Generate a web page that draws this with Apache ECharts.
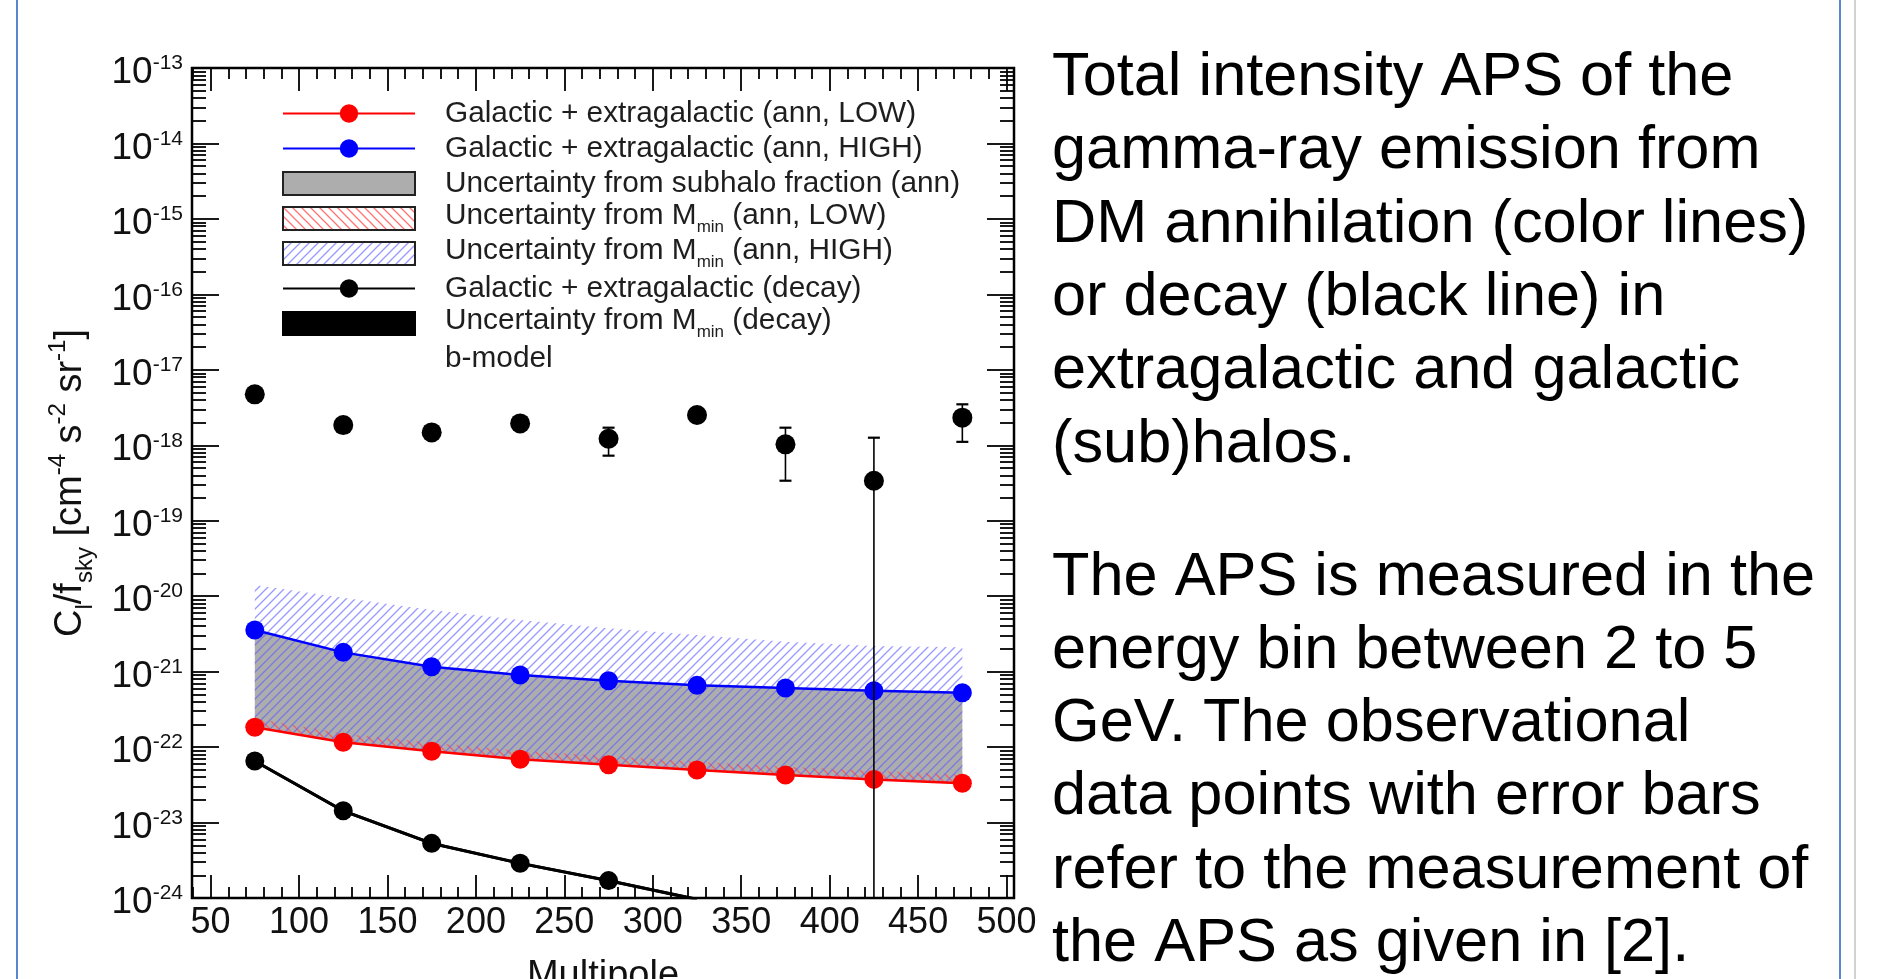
<!DOCTYPE html>
<html><head><meta charset="utf-8">
<script src="https://cdn.jsdelivr.net/npm/echarts@6/dist/echarts.min.js"></script>
<style>html,body{margin:0;padding:0;background:#fff}#c{width:1881px;height:979px}</style>
</head><body><div id="c"></div>
<script>
// ---------------- data ----------------
const multipoles = [75, 125, 175, 225, 275, 325, 375, 425, 475];
const annLowY  = [1.83e-22, 1.16e-22, 8.79e-23, 6.89e-23, 5.84e-23, 4.96e-23, 4.26e-23, 3.73e-23, 3.31e-23];
const annHighY = [3.56e-21, 1.80e-21, 1.16e-21, 9.0e-22, 7.57e-22, 6.58e-22, 6.07e-22, 5.58e-22, 5.25e-22];
const mminLowBandLo  = [1.83e-22, 1.16e-22, 8.79e-23, 6.89e-23, 5.84e-23, 4.96e-23, 4.26e-23, 3.73e-23, 3.31e-23];
const mminLowBandHi  = [2.4e-22, 1.5e-22, 1.14e-22, 8.9e-23, 7.6e-23, 6.4e-23, 5.5e-23, 4.85e-23, 4.3e-23];
const mminHighBandLo = [1.9e-22, 1.2e-22, 9.1e-23, 7.1e-23, 6.0e-23, 5.1e-23, 4.4e-23, 3.85e-23, 3.4e-23];
const mminHighBandHi = [1.41e-20, 9.5e-21, 6.55e-21, 4.83e-21, 3.75e-21, 3.05e-21, 2.49e-21, 2.18e-21, 2.10e-21];
const decayX = [75, 125, 175, 225, 275, 325];
const decayY = [6.53e-23, 1.43e-23, 5.30e-24, 2.88e-24, 1.70e-24, 9.6e-25];
const decayBandLo = [6.2e-23, 1.36e-23, 5.05e-24, 2.75e-24, 1.62e-24, 9.1e-25];
const decayBandHi = [6.85e-23, 1.5e-23, 5.55e-24, 3.0e-24, 1.78e-24, 1.0e-24];
const obsY  = [4.73e-18, 1.85e-18, 1.48e-18, 1.95e-18, 1.22e-18, 2.52e-18, 1.03e-18, 3.39e-19, 2.32e-18];
const obsLo = [4.2e-18, 1.65e-18, 1.32e-18, 1.75e-18, 7.28e-19, 2.25e-18, 3.39e-19, 1e-30, 1.11e-18];
const obsHi = [5.3e-18, 2.05e-18, 1.65e-18, 2.15e-18, 1.71e-18, 2.8e-18, 1.71e-18, 1.26e-18, 3.49e-18];
const xTickLabels = [50, 100, 150, 200, 250, 300, 350, 400, 450, 500];
const yTickExponents = [-24, -23, -22, -21, -20, -19, -18, -17, -16, -15, -14, -13];
const yMinorMantissas = [2, 3, 4, 5, 6, 7, 8, 9];

const N_LOW = 'Galactic + extragalactic (ann, LOW)';
const N_HIGH = 'Galactic + extragalactic (ann, HIGH)';
const N_SUB = 'Uncertainty from subhalo fraction (ann)';
const N_MLOW = 'Uncertainty from M_min (ann, LOW)';
const N_MHIGH = 'Uncertainty from M_min (ann, HIGH)';
const N_DEC = 'Galactic + extragalactic (decay)';
const N_DECB = 'Uncertainty from M_min (decay)';
const N_BM = 'b-model';

const para1 = ['Total intensity APS of the', 'gamma-ray emission from', 'DM annihilation (color lines)',
  'or decay (black line) in', 'extragalactic and galactic', '(sub)halos.'];
const para2 = ['The APS is measured in the', 'energy bin between 2 to 5', 'GeV. The observational',
  'data points with error bars', 'refer to the measurement of', 'the APS as given in [2].'];

// ---------------- helpers ----------------
const FONT = '"Liberation Sans", Arial, Helvetica, sans-serif';
const xMinorTicks = [];
for (let v = 40; v <= 500; v += 10) if (v % 50 !== 0) xMinorTicks.push(v);
const yMinorTicks = [];
for (let e = -24; e < -13; e++) for (const m of yMinorMantissas) yMinorTicks.push(e + Math.log10(m));

function hatch(color, dir, s, lw) {
  const c = document.createElement('canvas'); c.width = s; c.height = s;
  const g = c.getContext('2d'); g.strokeStyle = color; g.lineWidth = lw; g.beginPath();
  if (dir === '/') {
    g.moveTo(0, s); g.lineTo(s, 0);
    g.moveTo(-s / 2, s / 2); g.lineTo(s / 2, -s / 2);
    g.moveTo(s / 2, s * 1.5); g.lineTo(s * 1.5, s / 2);
  } else {
    g.moveTo(0, 0); g.lineTo(s, s);
    g.moveTo(-s / 2, s / 2); g.lineTo(s / 2, s * 1.5);
    g.moveTo(s / 2, -s / 2); g.lineTo(s * 1.5, s / 2);
  }
  g.stroke();
  return { image: c, repeat: 'repeat' };
}
const blueHatch = hatch('rgba(90,90,255,0.62)', '/', 9, 1.3);
const redHatch = hatch('rgba(255,80,80,0.8)', '\\', 9, 1.3);
const GRAY = '#adadad';

function band(name, xs, lo, hi, fill, z) {
  return {
    type: 'custom', name, xAxisIndex: 0, yAxisIndex: 0, clip: true, z, silent: true,
    data: xs.map((x, i) => [x, lo[i], hi[i]]),
    itemStyle: { color: fill },
    renderItem: (params, api) => {
      if (params.dataIndex !== 0) return;
      const top = xs.map((x, i) => api.coord([x, hi[i]]));
      const bot = xs.map((x, i) => api.coord([x, lo[i]])).reverse();
      return { type: 'polygon', shape: { points: top.concat(bot) }, style: { fill: fill, lineWidth: 0 } };
    }
  };
}
function lineSeries(name, xs, ys, color, width, z) {
  return {
    type: 'line', name, xAxisIndex: 0, yAxisIndex: 0, clip: true, z, silent: true,
    data: xs.map((x, i) => [x, ys[i]]),
    symbol: 'circle', symbolSize: 19, showSymbol: true,
    lineStyle: { color, width }, itemStyle: { color, opacity: 1 }
  };
}

const tickStyle = { color: '#000', width: 1.8 };
function xAux(position, vals, len) {
  return { type: 'value', gridIndex: 0, position, min: 39.5, max: 504.2,
    axisLine: { show: false, onZero: false }, splitLine: { show: false }, axisLabel: { show: false },
    axisTick: { show: true, inside: true, length: len, customValues: vals, lineStyle: tickStyle } };
}
function yAux(position, vals, len) {
  return { type: 'value', gridIndex: 0, position, min: -24, max: -13, interval: 1,
    axisLine: { show: false, onZero: false }, splitLine: { show: false }, axisLabel: { show: false },
    axisTick: { show: true, inside: true, length: len, customValues: vals, lineStyle: tickStyle } };
}

const TXT = '#1e1e1e';
const chart = echarts.init(document.getElementById('c'), null, { renderer: 'canvas' });
const option = {
  animation: false,
  backgroundColor: '#ffffff',
  grid: { left: 192, top: 68, width: 822, height: 830, show: true, borderColor: '#000', borderWidth: 2.5,
    backgroundColor: '#fff', outerBoundsMode: 'none', containLabel: false },
  xAxis: [
    { type: 'value', position: 'bottom', min: 39.5, max: 504.2,
      name: 'Multipole', nameLocation: 'middle', nameGap: 60,
      nameTextStyle: { fontFamily: FONT, fontSize: 38, color: '#111' },
      axisLine: { show: false, onZero: false }, splitLine: { show: false },
      axisTick: { show: true, inside: true, length: 23, customValues: xTickLabels, lineStyle: tickStyle },
      axisLabel: { customValues: xTickLabels, margin: 7, fontFamily: FONT, fontSize: 36, color: '#111' } },
    xAux('bottom', xMinorTicks, 11),
    xAux('top', xTickLabels, 23),
    xAux('top', xMinorTicks, 11)
  ],
  yAxis: [
    { type: 'log', logBase: 10, min: 1e-24, max: 1e-13, position: 'left',
      name: '{m|C}{sb|l}{m|/f}{sb|sky}{m| [cm}{sp|-4}{m| s}{sp|-2}{m| sr}{sp|-1}{m|]}',
      nameLocation: 'middle', nameRotate: 90, nameGap: 96,
      nameTextStyle: { fontFamily: FONT, fontSize: 38, color: '#111', rich: {
        m: { fontFamily: FONT, fontSize: 38, lineHeight: 50, color: '#111' },
        sb: { fontFamily: FONT, fontSize: 24, lineHeight: 50, verticalAlign: 'top', padding: [27, 0, 0, 0], color: '#111' },
        sp: { fontFamily: FONT, fontSize: 24, lineHeight: 50, verticalAlign: 'top', padding: [0, 0, 0, 0], color: '#111' } } },
      axisLine: { show: false, onZero: false }, splitLine: { show: false },
      axisTick: { show: false }, axisLabel: { show: false } },
    { type: 'value', position: 'left', min: -24, max: -13, interval: 1,
      axisLine: { show: false, onZero: false }, splitLine: { show: false },
      axisTick: { show: true, inside: true, length: 27, customValues: yTickExponents, lineStyle: tickStyle },
      axisLabel: { customValues: yTickExponents, margin: 9, padding: [10, 0, 0, 0],
        formatter: v => '{b|10}{s|' + v + '}',
        rich: { b: { fontFamily: FONT, fontSize: 37, lineHeight: 40, color: '#111' },
                s: { fontFamily: FONT, fontSize: 21, lineHeight: 40, verticalAlign: 'top', color: '#111' } } } },
    yAux('left', yMinorTicks, 14),
    yAux('right', yTickExponents, 27),
    yAux('right', yMinorTicks, 14)
  ],
  legend: {
    orient: 'vertical', left: 282, top: 96, padding: 0, itemGap: 0, itemWidth: 132, itemHeight: 23,
    selectedMode: false,
    formatter: name => {
      if (name.indexOf('M_min') < 0) return name;
      const parts = name.split('M_min');
      return '{a|' + parts[0] + 'M}{sub|min}{a|' + parts[1] + '}';
    },
    textStyle: { fontFamily: FONT, fontSize: 29.8, color: TXT, lineHeight: 35, padding: [0, 0, 0, 25],
      rich: {
        a: { fontFamily: FONT, fontSize: 29.8, color: TXT, lineHeight: 35, verticalAlign: 'top' },
        sub: { fontFamily: FONT, fontSize: 17, color: TXT, lineHeight: 35, verticalAlign: 'bottom' } } },
    data: [
      { name: N_LOW },
      { name: N_HIGH },
      { name: N_SUB, icon: 'rect', itemStyle: { color: GRAY, borderColor: '#222', borderWidth: 2 } },
      { name: N_MLOW, icon: 'rect', itemStyle: { color: redHatch, borderColor: '#222', borderWidth: 2 } },
      { name: N_MHIGH, icon: 'rect', itemStyle: { color: blueHatch, borderColor: '#222', borderWidth: 2 } },
      { name: N_DEC },
      { name: N_DECB, icon: 'rect', itemStyle: { color: '#000', borderColor: '#000', borderWidth: 2 } },
      { name: N_BM, icon: 'none' }
    ]
  },
  series: [
    band(N_SUB, multipoles, annLowY, annHighY, GRAY, 1),
    band(N_MLOW, multipoles, mminLowBandLo, mminLowBandHi, redHatch, 2),
    band(N_MHIGH, multipoles, mminHighBandLo, mminHighBandHi, blueHatch, 3),
    band(N_DECB, decayX, decayBandLo, decayBandHi, '#000', 4),
    lineSeries(N_LOW, multipoles, annLowY, '#ff0000', 2.5, 5),
    lineSeries(N_HIGH, multipoles, annHighY, '#0000ff', 2.5, 5),
    lineSeries(N_DEC, decayX, decayY, '#000000', 3, 5),
    { type: 'line', name: N_BM, data: [], xAxisIndex: 0, yAxisIndex: 0 },
    { type: 'custom', name: 'Data', xAxisIndex: 0, yAxisIndex: 0, clip: true, z: 6, silent: true,
      data: multipoles.map((x, i) => [x, obsLo[i], obsHi[i]]),
      renderItem: (params, api) => {
        const x = api.value(0);
        const pLo = api.coord([x, api.value(1)]), pHi = api.coord([x, api.value(2)]);
        const cw = 6;
        return { type: 'group', children: [
          { type: 'line', shape: { x1: pHi[0], y1: pHi[1], x2: pLo[0], y2: pLo[1] }, style: { stroke: '#000', lineWidth: 1.6 } },
          { type: 'line', shape: { x1: pHi[0] - cw, y1: pHi[1], x2: pHi[0] + cw, y2: pHi[1] }, style: { stroke: '#000', lineWidth: 2.2 } },
          { type: 'line', shape: { x1: pLo[0] - cw, y1: pLo[1], x2: pLo[0] + cw, y2: pLo[1] }, style: { stroke: '#000', lineWidth: 2.2 } }
        ] };
      } },
    { type: 'scatter', name: 'Data points', xAxisIndex: 0, yAxisIndex: 0, z: 7, silent: true,
      data: multipoles.map((x, i) => [x, obsY[i]]), symbol: 'circle', symbolSize: 20,
      itemStyle: { color: '#000', opacity: 1 } }
  ],
  graphic: [
    { type: 'rect', shape: { x: 16, y: 0, width: 2, height: 979 }, style: { fill: '#5a87cc' }, silent: true },
    { type: 'rect', shape: { x: 1839, y: 0, width: 2, height: 979 }, style: { fill: '#5a87cc' }, silent: true },
    { type: 'rect', shape: { x: 1854, y: 0, width: 2, height: 979 }, style: { fill: '#d2d2d2' }, silent: true },
    { type: 'text', x: 1052, y: 41.5, silent: true,
      style: { text: para1.join('\n'), fontFamily: FONT, fontSize: 61.3, lineHeight: 73.3, fill: '#000' } },
    { type: 'text', x: 1052, y: 541, silent: true,
      style: { text: para2.join('\n'), fontFamily: FONT, fontSize: 61.3, lineHeight: 73.3, fill: '#000' } }
  ]
};
chart.setOption(option);
</script></body></html>
